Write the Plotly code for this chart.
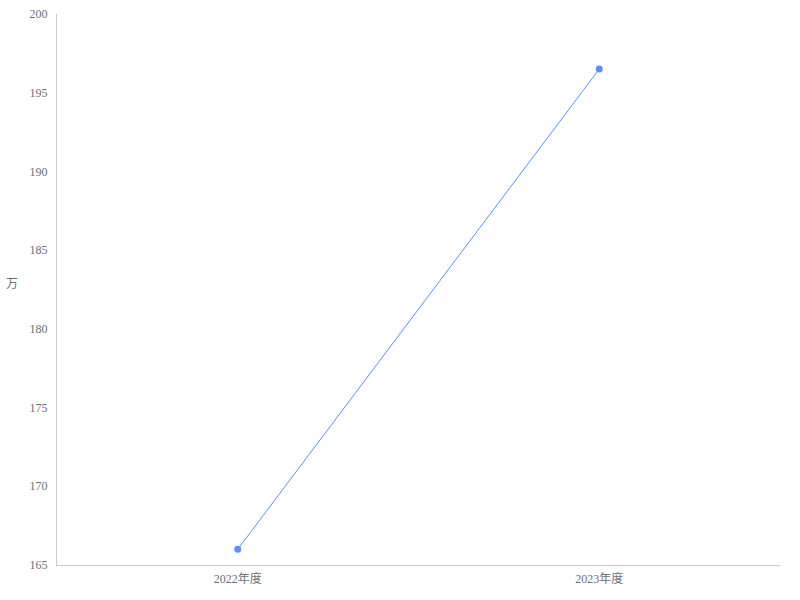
import plotly.graph_objects as go

categories = ["2022年度", "2023年度"]
values = [166.0, 196.5]
y_ticks = [165, 170, 175, 180, 185, 190, 195, 200]

fig = go.Figure()
fig.add_trace(go.Scatter(
    x=categories, y=values, mode="lines+markers",
    line=dict(color="#5B8FF9", width=1),
    marker=dict(color="#5B8FF9", size=7),
    showlegend=False,
))

font_family = "Liberation Serif, 'Noto Sans CJK SC', serif"
fig.update_layout(
    width=800, height=600,
    margin=dict(l=57, r=20, t=14, b=35, autoexpand=False),
    plot_bgcolor="white", paper_bgcolor="white",
    font=dict(family=font_family, size=12, color="#6E7079"),
    xaxis=dict(
        type="category", range=[-0.5, 1.5], automargin=False,
        showgrid=False, zeroline=False,
        showline=True, linecolor="#CCCCCC", linewidth=1,
        ticks="", ticklabelstandoff=3,
        tickfont=dict(size=12, color="#6E7079"),
    ),
    yaxis=dict(
        range=[165, 200], tickvals=y_ticks, automargin=False,
        showgrid=False, zeroline=False, ticklabeloverflow="allow",
        showline=True, linecolor="#CCCCCC", linewidth=1,
        ticks="", ticklabelstandoff=6,
        tickfont=dict(size=12, color="#6E7079"),
    ),
    annotations=[dict(
        text="万", xref="paper", yref="paper", x=-0.062, y=0.512,
        xanchor="center", yanchor="middle", showarrow=False,
        font=dict(size=12, color="#6E7079", family="'Noto Sans CJK SC', sans-serif"),
    )],
)

fig.write_html("out.html", config={"displayModeBar": False},
               post_script="document.body.style.margin='0';")
